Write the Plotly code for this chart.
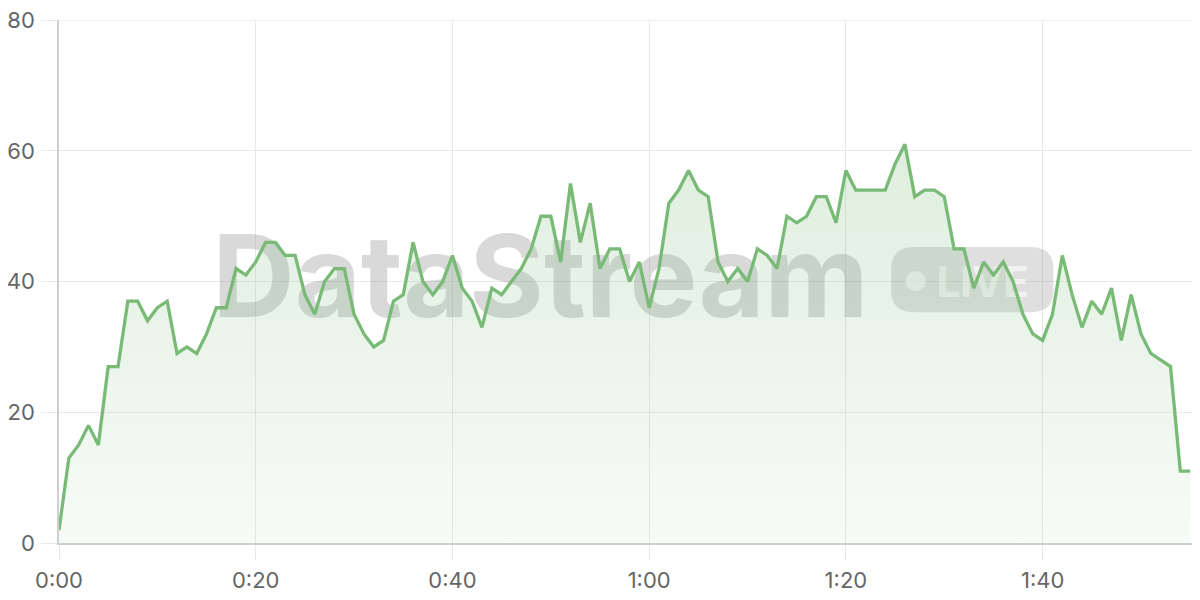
import plotly.graph_objects as go

# ---- data ----
seconds = list(range(116))
values = [2, 13, 15, 18, 15, 27, 27, 37, 37, 34,
          36, 37, 29, 30, 29, 32, 36, 36, 42, 41,
          43, 46, 46, 44, 44, 38, 35, 40, 42, 42,
          35, 32, 30, 31, 37, 38, 46, 40, 38, 40,
          44, 39, 37, 33, 39, 38, 40, 42, 45, 50,
          50, 43, 55, 46, 52, 42, 45, 45, 40, 43,
          36, 42, 52, 54, 57, 54, 53, 43, 40, 42,
          40, 45, 44, 42, 50, 49, 50, 53, 53, 49,
          57, 54, 54, 54, 54, 58, 61, 53, 54, 54,
          53, 45, 45, 39, 43, 41, 43, 40, 35, 32,
          31, 35, 44, 38, 33, 37, 35, 39, 31, 38,
          32, 29, 28, 27, 11, 11]
x_tickvals = [0, 20, 40, 60, 80, 100]
x_ticktext = ["0:00", "0:20", "0:40", "1:00", "1:20", "1:40"]
y_tickvals = [0, 20, 40, 60, 80]

LINE = "#79ba77"
FONT = "Inter"
GRID = "#e9e9e9"

fig = go.Figure()
fig.add_trace(go.Scatter(
    x=seconds, y=values, mode="lines",
    line=dict(color=LINE, width=3.3, shape="linear"),
    fill="tozeroy",
    fillgradient=dict(type="vertical",
                      colorscale=[[0, "rgba(121,186,119,0.06)"],
                                  [1, "rgba(121,186,119,0.24)"]]),
    hoverinfo="skip", showlegend=False,
))

# ---- watermark (below the trace, above grid) ----
wm_gray = "rgba(140,140,140,0.33)"
shapes = []
# top gridline (plotly drops the gridline that sits on the plot edge)
shapes.append(dict(type="line", xref="paper", yref="y", x0=0, x1=1, y0=y_tickvals[-1], y1=y_tickvals[-1],
                   line=dict(color=GRID, width=1), layer="below"))
shapes.append(dict(type="rect", xref="x", yref="y", x0=15.4, x1=82.5, y0=35, y1=48,
                   line=dict(width=0), fillcolor="rgba(0,0,0,0)", layer="between",
                   label=dict(text="<b>DataStream</b>", font=dict(family=FONT, size=114, color=wm_gray),
                              textposition="middle center")))
# pill
x0, x1, y0, y1 = 84.6, 101.1, 35.3, 45.3
rx, ry = 2.3, 3.4
pill = (f"M {x0+rx},{y0} L {x1-rx},{y0} Q {x1},{y0} {x1},{y0+ry} "
        f"L {x1},{y1-ry} Q {x1},{y1} {x1-rx},{y1} L {x0+rx},{y1} "
        f"Q {x0},{y1} {x0},{y1-ry} L {x0},{y0+ry} Q {x0},{y0} {x0+rx},{y0} Z")
shapes.append(dict(type="path", xref="x", yref="y", path=pill, line=dict(width=0),
                   fillcolor="rgba(140,140,140,0.28)", layer="between"))
shapes.append(dict(type="circle", xref="x", yref="y", x0=86.07, x1=88.11, y0=38.55, y1=41.61,
                   line=dict(width=0), fillcolor="rgba(255,255,255,0.6)", layer="between"))
shapes.append(dict(type="rect", xref="x", yref="y", x0=89.2, x1=98.6, y0=36, y1=44.4,
                   line=dict(width=0), fillcolor="rgba(0,0,0,0)", layer="between",
                   label=dict(text="<b>LIVE</b>", font=dict(family=FONT, size=42, color="rgba(255,255,255,0.6)"),
                              textposition="middle center")))

# the page body adds an 8px offset, so margins are reduced by 8px on left/top
fig.update_layout(
    width=1200, height=600,
    margin=dict(l=51, r=8, t=12, b=65, autoexpand=False),
    paper_bgcolor="white", plot_bgcolor="white",
    font=dict(family=FONT, size=22, color="#666666"),
    shapes=shapes,
    xaxis=dict(range=[0, 116], tickvals=x_tickvals, ticktext=x_ticktext,
               showgrid=True, gridcolor=GRID, gridwidth=1,
               zeroline=False, showline=True, linecolor="#cfcfcf", linewidth=1.5,
               ticks="outside", ticklen=15, tickcolor=GRID, tickwidth=1,
               ticklabelstandoff=2, automargin=False, ticklabeloverflow="allow",
               tickfont=dict(family=FONT, size=22, color="#666666"), fixedrange=True),
    yaxis=dict(range=[0, 80.03], tickvals=y_tickvals,
               showgrid=True, gridcolor=GRID, gridwidth=1,
               zeroline=False, showline=True, linecolor="#cfcfcf", linewidth=1.5,
               ticks="outside", ticklen=16, tickcolor=GRID, tickwidth=1,
               ticklabelstandoff=2, automargin=False, ticklabeloverflow="allow",
               tickfont=dict(family=FONT, size=22, color="#666666"), fixedrange=True),
)

fig.write_html("out.html")
